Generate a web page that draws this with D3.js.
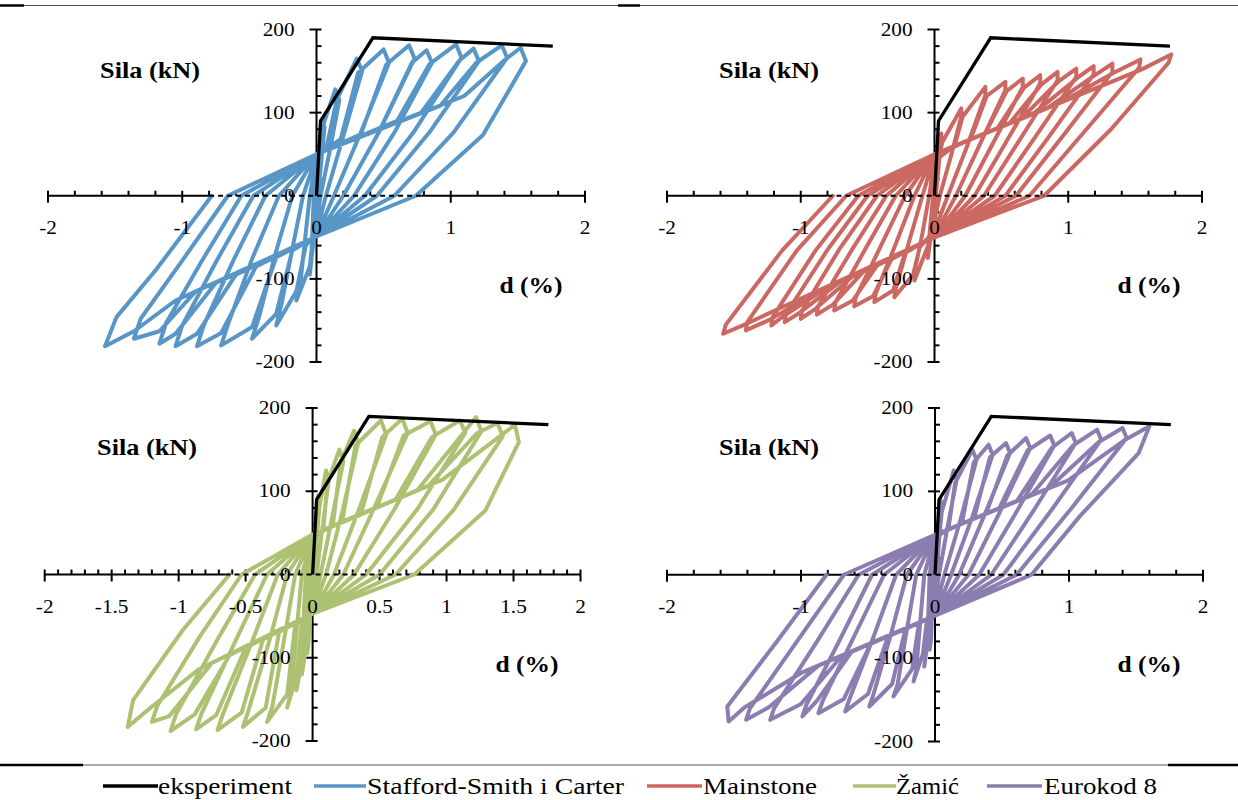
<!DOCTYPE html>
<html><head><meta charset="utf-8">
<script src="https://cdn.jsdelivr.net/npm/d3@7"></script>
<style>body{margin:0;background:#fff}svg{display:block}text{font-family:"Liberation Serif","Times New Roman",serif;fill:#000}</style>
</head><body><svg id="c" width="1238" height="800"></svg>
<script>
// ---------------- DATA ----------------
// experiment envelope: d (%), force (kN)
const expD = [0, 0.03, 0.42, 1.76];
const expF = [0, 90, 190, 180];

// Each row = one half-cycle, vertices [d (%), F (kN)] in drawing order:
// pinch point, band point, knee (near previous peak), peak, post-peak, unloading mid-point, residual (F=0)
const ssPos = [
 [[0,20],[0.02,50],[0.04,92],[0.06,82],[0.035,40],[0.01,0]],
 [[0,35],[0.03,55],[0.05,85],[0.14,128],[0.17,115],[0.10,55],[0.03,0]],
 [[0,45],[0.08,62],[0.15,115],[0.30,165],[0.34,150],[0.20,72],[0.07,0]],
 [[0,48],[0.18,68],[0.31,148],[0.50,176],[0.54,160],[0.33,76],[0.13,0]],
 [[0,50],[0.33,74],[0.52,158],[0.69,181],[0.73,165],[0.47,78],[0.20,0]],
 [[0,50],[0.48,82],[0.71,160],[0.82,175],[0.86,160],[0.58,76],[0.28,0]],
 [[0,50],[0.60,90],[0.84,158],[1.04,182],[1.08,166],[0.73,78],[0.36,0]],
 [[0,50],[0.78,100],[1.06,162],[1.17,177],[1.21,162],[0.84,76],[0.45,0]],
 [[0,50],[0.92,108],[1.19,160],[1.38,181],[1.42,166],[1.02,76],[0.58,0]],
 [[0,50],[1.10,120],[1.40,163],[1.52,178],[1.56,162],[1.24,73],[0.74,0]]
];
const ssNeg = [
 [[0,-20],[-0.02,-50],[-0.05,-95],[-0.04,-80],[-0.03,-40],[-0.02,0]],
 [[0,-35],[-0.03,-56],[-0.05,-85],[-0.15,-126],[-0.12,-105],[-0.085,-52],[-0.05,0]],
 [[0,-45],[-0.08,-60],[-0.15,-115],[-0.30,-156],[-0.26,-130],[-0.18,-64],[-0.10,0]],
 [[0,-48],[-0.18,-66],[-0.30,-142],[-0.48,-172],[-0.43,-147],[-0.31,-72],[-0.18,0]],
 [[0,-49],[-0.30,-74],[-0.48,-158],[-0.71,-180],[-0.66,-155],[-0.48,-76],[-0.28,0]],
 [[0,-49],[-0.45,-85],[-0.71,-165],[-0.89,-181],[-0.84,-156],[-0.62,-78],[-0.38,0]],
 [[0,-49],[-0.60,-95],[-0.89,-166],[-1.05,-181],[-1.00,-156],[-0.75,-80],[-0.47,0]],
 [[0,-49],[-0.75,-105],[-1.05,-166],[-1.17,-178],[-1.12,-153],[-0.86,-80],[-0.56,0]],
 [[0,-49],[-0.90,-115],[-1.17,-163],[-1.36,-172],[-1.31,-148],[-1.00,-78],[-0.66,0]],
 [[0,-49],[-1.05,-126],[-1.36,-163],[-1.575,-181],[-1.49,-146],[-1.20,-90],[-0.78,0]]
];
const msPos = [
 [[0,15],[0.02,40],[0.05,75],[0.05,68],[0.03,34],[0.01,0]],
 [[0,30],[0.04,53],[0.06,65],[0.20,105],[0.20,95],[0.12,46],[0.04,0]],
 [[0,42],[0.15,60],[0.21,95],[0.38,131],[0.38,121],[0.24,58],[0.10,0]],
 [[0,48],[0.27,68],[0.39,120],[0.53,137],[0.53,127],[0.34,62],[0.16,0]],
 [[0,50],[0.38,75],[0.54,126],[0.66,141],[0.66,131],[0.44,64],[0.23,0]],
 [[0,50],[0.47,81],[0.67,130],[0.79,145],[0.79,135],[0.54,66],[0.30,0]],
 [[0,50],[0.56,87],[0.80,134],[0.92,149],[0.92,139],[0.64,68],[0.37,0]],
 [[0,50],[0.65,93],[0.93,138],[1.06,153],[1.06,143],[0.75,70],[0.45,0]],
 [[0,50],[0.75,100],[1.07,142],[1.19,156],[1.19,146],[0.86,72],[0.53,0]],
 [[0,50],[0.84,105],[1.20,145],[1.33,159],[1.33,149],[0.97,74],[0.61,0]],
 [[0,50],[0.94,112],[1.34,148],[1.54,164],[1.53,154],[1.12,77],[0.71,0]],
 [[0,50],[1.08,121],[1.55,152],[1.77,170],[1.75,160],[1.32,80],[0.82,0]]
];
const msNeg = [
 [[0,-15],[-0.02,-40],[-0.05,-75],[-0.05,-68],[-0.03,-34],[-0.01,0]],
 [[0,-30],[-0.04,-57],[-0.06,-65],[-0.15,-102],[-0.15,-92],[-0.09,-45],[-0.04,0]],
 [[0,-42],[-0.11,-62],[-0.16,-95],[-0.30,-122],[-0.29,-112],[-0.19,-55],[-0.09,0]],
 [[0,-48],[-0.22,-69],[-0.31,-114],[-0.45,-128],[-0.44,-118],[-0.29,-58],[-0.15,0]],
 [[0,-50],[-0.32,-76],[-0.46,-121],[-0.60,-133],[-0.59,-123],[-0.40,-60],[-0.22,0]],
 [[0,-50],[-0.43,-84],[-0.61,-126],[-0.75,-138],[-0.74,-128],[-0.51,-62],[-0.29,0]],
 [[0,-50],[-0.53,-91],[-0.76,-131],[-0.88,-143],[-0.87,-133],[-0.61,-63],[-0.36,0]],
 [[0,-50],[-0.62,-98],[-0.89,-136],[-1.00,-148],[-0.99,-138],[-0.71,-64],[-0.43,0]],
 [[0,-50],[-0.71,-104],[-1.01,-141],[-1.12,-152],[-1.11,-142],[-0.80,-65],[-0.50,0]],
 [[0,-50],[-0.79,-109],[-1.13,-145],[-1.22,-156],[-1.21,-146],[-0.89,-66],[-0.57,0]],
 [[0,-50],[-0.86,-114],[-1.23,-149],[-1.41,-162],[-1.40,-152],[-1.03,-66],[-0.66,0]],
 [[0,-50],[-0.99,-123],[-1.42,-155],[-1.58,-166],[-1.56,-155],[-1.14,-66],[-0.76,0]]
];
const zmPos = [
 [[0,20],[0.02,50],[0.04,95],[0.05,85],[0.03,40],[0.01,0]],
 [[0,35],[0.035,50],[0.05,80],[0.10,125],[0.12,112],[0.07,52],[0.03,0]],
 [[0,42],[0.08,53],[0.11,110],[0.20,150],[0.23,136],[0.14,64],[0.06,0]],
 [[0,46],[0.15,58],[0.21,135],[0.31,173],[0.34,158],[0.22,74],[0.10,0]],
 [[0,48],[0.22,63],[0.32,155],[0.51,185],[0.55,168],[0.35,80],[0.16,0]],
 [[0,48],[0.36,72],[0.52,165],[0.67,187],[0.71,170],[0.46,80],[0.23,0]],
 [[0,48],[0.48,81],[0.68,167],[0.88,184],[0.92,168],[0.61,78],[0.31,0]],
 [[0,48],[0.62,90],[0.89,165],[1.10,185],[1.14,170],[0.78,78],[0.40,0]],
 [[0,48],[0.78,101],[1.11,167],[1.22,189],[1.26,172],[0.90,78],[0.50,0]],
 [[0,48],[0.86,106],[1.23,170],[1.38,182],[1.42,166],[1.05,77],[0.62,0]],
 [[0,48],[0.97,114],[1.39,165],[1.51,180],[1.54,159],[1.29,77],[0.76,0]]
];
const zmNeg = [
 [[0,-20],[-0.02,-50],[-0.04,-95],[-0.03,-82],[-0.02,-40],[-0.01,0]],
 [[0,-35],[-0.03,-52],[-0.04,-78],[-0.08,-120],[-0.07,-104],[-0.05,-50],[-0.03,0]],
 [[0,-42],[-0.06,-55],[-0.08,-104],[-0.12,-139],[-0.10,-120],[-0.07,-58],[-0.05,0]],
 [[0,-46],[-0.08,-56],[-0.12,-122],[-0.19,-160],[-0.16,-140],[-0.12,-68],[-0.08,0]],
 [[0,-47],[-0.13,-60],[-0.19,-144],[-0.34,-177],[-0.30,-158],[-0.21,-76],[-0.13,0]],
 [[0,-47],[-0.25,-69],[-0.35,-160],[-0.52,-183],[-0.48,-164],[-0.32,-78],[-0.19,0]],
 [[0,-47],[-0.37,-78],[-0.53,-166],[-0.71,-187],[-0.67,-168],[-0.45,-80],[-0.26,0]],
 [[0,-47],[-0.50,-88],[-0.72,-169],[-0.87,-186],[-0.83,-167],[-0.57,-78],[-0.34,0]],
 [[0,-47],[-0.62,-97],[-0.88,-168],[-1.06,-188],[-1.02,-168],[-0.71,-78],[-0.43,0]],
 [[0,-47],[-0.75,-106],[-1.07,-170],[-1.20,-177],[-1.16,-158],[-0.84,-74],[-0.53,0]],
 [[0,-47],[-0.85,-114],[-1.21,-160],[-1.38,-183],[-1.34,-151],[-0.97,-67],[-0.62,0]]
];
const ekPos = [
 [[0,20],[0.02,45],[0.04,90],[0.05,82],[0.03,40],[0.01,0]],
 [[0,35],[0.035,50],[0.05,75],[0.14,125],[0.16,113],[0.09,54],[0.03,0]],
 [[0,44],[0.10,55],[0.15,110],[0.28,150],[0.31,138],[0.19,66],[0.07,0]],
 [[0,47],[0.20,61],[0.29,135],[0.40,156],[0.43,144],[0.28,70],[0.12,0]],
 [[0,48],[0.29,67],[0.41,141],[0.53,158],[0.56,146],[0.37,72],[0.18,0]],
 [[0,48],[0.38,73],[0.54,143],[0.68,164],[0.71,152],[0.48,74],[0.25,0]],
 [[0,48],[0.48,80],[0.69,149],[0.86,167],[0.89,155],[0.61,76],[0.33,0]],
 [[0,48],[0.61,88],[0.87,152],[1.02,170],[1.05,158],[0.74,78],[0.42,0]],
 [[0,48],[0.72,96],[1.03,155],[1.21,174],[1.24,162],[0.88,80],[0.51,0]],
 [[0,48],[0.85,104],[1.22,159],[1.40,176],[1.43,164],[1.02,80],[0.61,0]],
 [[0,48],[0.99,113],[1.41,161],[1.60,178],[1.52,146],[1.08,70],[0.72,0]]
];
const ekNeg = [
 [[0,-20],[-0.02,-45],[-0.04,-90],[-0.03,-78],[-0.02,-38],[-0.01,0]],
 [[0,-35],[-0.035,-52],[-0.05,-75],[-0.08,-110],[-0.07,-97],[-0.05,-48],[-0.04,0]],
 [[0,-44],[-0.06,-54],[-0.09,-95],[-0.16,-128],[-0.14,-114],[-0.11,-56],[-0.08,0]],
 [[0,-48],[-0.12,-58],[-0.17,-113],[-0.31,-146],[-0.28,-132],[-0.21,-66],[-0.14,0]],
 [[0,-49],[-0.22,-65],[-0.32,-131],[-0.49,-158],[-0.46,-144],[-0.33,-72],[-0.21,0]],
 [[0,-49],[-0.35,-74],[-0.50,-143],[-0.67,-164],[-0.64,-150],[-0.46,-75],[-0.29,0]],
 [[0,-49],[-0.48,-83],[-0.68,-149],[-0.87,-166],[-0.84,-152],[-0.61,-76],[-0.38,0]],
 [[0,-49],[-0.62,-92],[-0.88,-151],[-0.99,-170],[-0.96,-156],[-0.71,-78],[-0.47,0]],
 [[0,-49],[-0.70,-98],[-1.00,-155],[-1.23,-174],[-1.20,-160],[-0.88,-80],[-0.57,0]],
 [[0,-49],[-0.87,-109],[-1.24,-159],[-1.41,-174],[-1.38,-160],[-1.03,-80],[-0.68,0]],
 [[0,-49],[-0.99,-117],[-1.42,-159],[-1.54,-176],[-1.55,-158],[-1.18,-80],[-0.81,0]]
];

// tick labels
const xTickVals = [-2, -1, 0, 1, 2];
const xTickLabels = ["-2", "-1", "0", "1", "2"];
const xTickValsHalf = [-2, -1.5, -1, -0.5, 0, 0.5, 1, 1.5, 2];
const xTickLabelsHalf = ["-2", "-1.5", "-1", "-0.5", "0", "0.5", "1", "1.5", "2"];
const yTickVals = [-200, -100, 0, 100, 200];
const yTickLabels = ["-200", "-100", "0", "100", "200"];

// legend
const legendNames = ["eksperiment", "Stafford-Smith i Carter", "Mainstone", "Žamić", "Eurokod 8"];
const legendColors = ["#000000", "#5796C6", "#CC6862", "#ADC173", "#8C7DB0"];

// ---------------- DRAWING ----------------
const svg = d3.select("#c");
const SX = 1.18;

function txt(g, x, y, s, o) {
  o = o || {};
  const t = g.append("text")
    .attr("transform", `translate(${x},${y}) scale(${o.sx || SX},1)`)
    .attr("text-anchor", o.anchor || "middle")
    .attr("font-family", "Liberation Serif")
    .attr("font-size", o.size || 18)
    .attr("font-weight", o.bold ? "bold" : "normal")
    .text(s);
  if (o.len) t.attr("textLength", o.len).attr("lengthAdjust", "spacingAndGlyphs");
  return t;
}

function buildPts(posRows, negRows) {
  const pts = [[0, 0]];
  posRows.forEach((r, i) => { r.forEach(p => pts.push(p)); negRows[i].forEach(p => pts.push(p)); });
  return pts;
}

const panels = [
  {x0: 48, x1: 585, yb: 362, yt: 29.5, color: legendColors[1], pos: ssPos, neg: ssNeg, half: false, dash: [-0.8, 0.78], sila: [150, 70], dlab: [531, 285]},
  {x0: 667, x1: 1202, yb: 362, yt: 29.5, color: legendColors[2], pos: msPos, neg: msNeg, half: false, dash: [-0.8, 0.82], sila: [769, 70], dlab: [1149, 285]},
  {x0: 44.7, x1: 580.5, yb: 741, yt: 408, color: legendColors[3], pos: zmPos, neg: zmNeg, half: true, dash: [-0.65, 0.72], sila: [147, 447], dlab: [527, 664]},
  {x0: 667, x1: 1203, yb: 741.5, yt: 408, color: legendColors[4], pos: ekPos, neg: ekNeg, half: false, dash: [-0.6, 0.7], sila: [769, 447], dlab: [1149, 664]}
];

panels.forEach(p => {
  const x = d3.scaleLinear().domain([-2, 2]).range([p.x0, p.x1]);
  const y = d3.scaleLinear().domain([-200, 200]).range([p.yb, p.yt]);
  const g = svg.append("g");
  const ax = x(0), ay = y(0);
  const axisStyle = s => s.attr("stroke", "#000").attr("stroke-width", 2);

  axisStyle(g.append("line").attr("x1", x(-2)).attr("x2", x(p.dash[0])).attr("y1", ay).attr("y2", ay));
  axisStyle(g.append("line").attr("x1", x(p.dash[1])).attr("x2", x(2)).attr("y1", ay).attr("y2", ay));
  axisStyle(g.append("line").attr("x1", ax).attr("x2", ax).attr("y1", y(200)).attr("y2", y(-200)));

  const majStep = p.half ? 0.5 : 1, minStep = p.half ? 0.1 : 0.2;
  const nMin = Math.round(4 / minStep), per = Math.round(majStep / minStep);
  d3.range(nMin + 1).forEach(i => {
    const v = -2 + i * minStep;
    const major = i % per === 0;
    axisStyle(g.append("line").attr("x1", x(v)).attr("x2", x(v))
      .attr("y1", ay - 5).attr("y2", major ? ay + 7 : ay));
  });
  d3.range(21).forEach(i => {
    const v = -200 + i * 20;
    const major = i % 5 === 0;
    axisStyle(g.append("line").attr("y1", y(v)).attr("y2", y(v))
      .attr("x1", major ? ax - 7 : ax).attr("x2", ax + 5));
  });

  const line = d3.line().x(d => x(d[0])).y(d => y(d[1]));
  g.append("path").datum(buildPts(p.pos, p.neg)).attr("d", line)
    .attr("fill", "none").attr("stroke", p.color).attr("stroke-width", 4)
    .attr("stroke-linejoin", "round").attr("stroke-linecap", "round");

  g.append("path").datum(expD.map((d, i) => [d, expF[i]])).attr("d", line)
    .attr("fill", "none").attr("stroke", "#000").attr("stroke-width", 3.3)
    .attr("stroke-linejoin", "miter");

  g.append("line").attr("x1", x(p.dash[0])).attr("x2", x(p.dash[1])).attr("y1", ay).attr("y2", ay)
    .attr("stroke", "#000").attr("stroke-width", 2).attr("stroke-dasharray", "5,4");

  const xv = p.half ? xTickValsHalf : xTickVals, xl = p.half ? xTickLabelsHalf : xTickLabels;
  xv.forEach((v, i) => txt(g, x(v), ay + 38, xl[i], {size: 18}));
  yTickVals.forEach((v, i) => txt(g, ax - 22, y(v) + 6, yTickLabels[i], {size: 18, anchor: "end"}));

  txt(g, p.sila[0], p.sila[1] + 8, "Sila (kN)", {size: 23, bold: true, sx: 1, len: 100});
  txt(g, p.dlab[0], p.dlab[1] + 8, "d (%)", {size: 23, bold: true, sx: 1, len: 63});
});

const fl = (x1, x2, yy, w, c) => svg.append("line").attr("x1", x1).attr("x2", x2).attr("y1", yy).attr("y2", yy)
  .attr("stroke", c).attr("stroke-width", w);
fl(0, 1238, 5.5, 1, "#555");
fl(0, 24, 5.5, 2.5, "#000");
fl(618, 640, 5.5, 2.5, "#000");
fl(83, 1168, 765, 1, "#555");
fl(0, 83, 765, 2.5, "#000");
fl(1168, 1238, 765, 2.5, "#000");

const legLines = [[103, 158], [314, 366], [647, 702], [853, 896], [987, 1042]];
const legText = [[158, 134], [367, 257], [703, 114], [896, 63], [1044, 113]];
const lg = svg.append("g");
legendNames.forEach((n, i) => {
  lg.append("line").attr("x1", legLines[i][0]).attr("x2", legLines[i][1]).attr("y1", 786).attr("y2", 786)
    .attr("stroke", legendColors[i]).attr("stroke-width", 3.5);
  txt(lg, legText[i][0], 794, n, {size: 24, anchor: "start", sx: 1, len: legText[i][1]});
});
</script></body></html>
